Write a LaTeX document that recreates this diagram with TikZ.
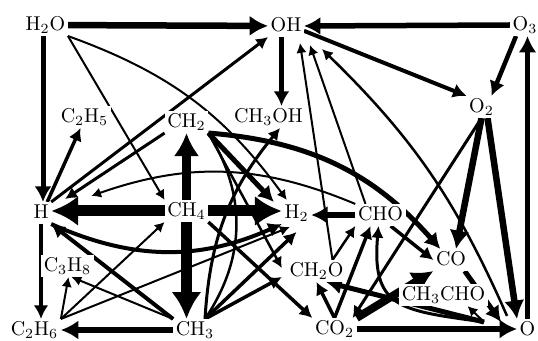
\documentclass[tikz,border=0pt]{standalone}
\usepackage{graphicx}
\usetikzlibrary{arrows.meta}
\pgfdeclarelayer{edges}
\pgfsetlayers{edges,main}
\newcommand{\lbl}[1]{\scalebox{2}{#1}}
\begin{document}
\begin{tikzpicture}[x=1pt,y=1pt,
  spc/.style={fill=white, inner sep=2.5pt, text height=13.7pt, text depth=3pt},
  ar/.style={line width=#1, -{Latex[length=6pt 1.9, width=6pt 2.2]}},
  pl/.style={line width=#1}]
\useasboundingbox (0,0) rectangle (538,340);

% species
\node[spc] (H2O)    at (45.5,315) {\lbl{H$_2$O}};
\node[spc] (OH)     at (286,314)  {\lbl{OH}};
\node[spc] (O3)     at (525,315)  {\lbl{O$_3$}};
\node[spc] (O2)     at (481.5,233) {\lbl{O$_2$}};
\node[spc] (C2H5)   at (84.5,223) {\lbl{C$_2$H$_5$}};
\node[spc] (CH2)    at (186.5,218) {\lbl{CH$_2$}};
\node[spc] (CH3OH)  at (268.5,223) {\lbl{CH$_3$OH}};
\node[spc] (H)      at (41,127)   {\lbl{H}};
\node[spc] (CH4)    at (186.5,129) {\lbl{CH$_4$}};
\node[spc] (H2)     at (296.5,127) {\lbl{H$_2$}};
\node[spc] (CHO)    at (380.5,125) {\lbl{CHO}};
\node[spc] (CH2O)   at (316.5,69) {\lbl{CH$_2$O}};
\node[spc] (CO)     at (451,80)   {\lbl{CO}};
\node[spc] (CH3CHO) at (443.5,45) {\lbl{CH$_3$CHO}};
\node[spc] (C3H8)   at (67.5,74)  {\lbl{C$_3$H$_8$}};
\node[spc] (C2H6)   at (34.5,10)  {\lbl{C$_2$H$_6$}};
\node[spc] (CH3)    at (195,10)   {\lbl{CH$_3$}};
\node[spc] (CO2)    at (334.5,11) {\lbl{CO$_2$}};
\node[spc] (O)      at (527.5,10) {\lbl{O}};
\coordinate (hub) at (484,18);

\begin{pgfonlayer}{edges}
% from H2O
\draw[ar=6.5pt] (H2O) -- (OH);
\draw[ar=5pt] ([xshift=-2.5pt]H2O.south) -- ([xshift=-2.5pt]H2O.south |- H.north);
\draw[ar=2pt] (H2O.south east) -- (CH4.north west);
\draw[ar=2pt] (H2O.south east) to[bend left=17] ([xshift=5pt,yshift=2pt]H2.north west);
% around H
\draw[ar=3pt] (H.north east) -- (OH.south west);
\draw[ar=3.5pt] ([xshift=-4pt]H.north east) -- ([xshift=-4pt]C2H5.south);
\draw[ar=3pt] (CH2.south west) -- ([xshift=14pt,yshift=3pt]H.north east);
\draw[ar=2pt] (CHO.north west) to[bend right=21] ([xshift=40pt,yshift=6pt]H.north east);
\draw[ar=4pt] (H.south east) to[bend right=24] (H2.south west);
\draw[ar=4pt] (H.south) -- (H.south |- C2H6.north);
% from CH4
\draw[ar=11pt] (CH4.west) -- (CH4.west -| H.east);
\draw[ar=11pt] (CH4.east) -- (CH4.east -| H2.west);
\draw[ar=11pt] (CH4.south) -- (CH4.south |- CH3.north);
\draw[ar=9pt] (CH4.north) -- (CH2.south);
\draw[ar=3.5pt] (CH4.south east) -- (CO2.north west);
% from CH3 and C2H6
\draw[ar=6pt] (CH3.west) -- (CH3.west -| C2H6.east);
\draw[ar=4pt] (CH3.north west) -- (H.south east);
\draw[ar=2pt] (CH3.north west) -- ([xshift=4pt]C3H8.south);
\draw[ar=2pt] (C2H6.north east) -- ([xshift=1pt]C3H8.south);
\draw[ar=2pt] (C2H6.north east) -- (CH4.south west);
\draw[ar=2pt] (C2H6.north east) -- ([xshift=8pt,yshift=-3pt]H2.south west);
\draw[ar=3.5pt] ([xshift=10pt]CH3.north) -- ([yshift=-8pt]H2.south);
\draw[ar=3.5pt] ([xshift=10pt]CH3.north) -- ([xshift=-5pt,yshift=5pt]CH2O.south west);
\draw[ar=3pt] ([xshift=10pt]CH3.north) to[bend left=18] ([xshift=11.5pt]CH3OH.south);
\draw[pl=2.5pt] (CH2.south east) to[bend left=33] ([xshift=10pt]CH3.north);
% from CH2 and OH
\draw[ar=4.5pt] ([xshift=-4.5pt]OH.south) -- ([xshift=-4.5pt]OH.south |- CH3OH.north);
\draw[ar=5pt] (CH2.south east) -- ([xshift=-8pt]H2.north west);
\draw[ar=5pt] (CH2.south east) to[bend left=22] ([xshift=7pt]CO.north west);
\draw[ar=2.5pt] (CH2.south east) -- ([xshift=-5pt,yshift=3pt]CH2O.west);
% CHO and CH2O
\draw[ar=5.5pt] (CHO.west) -- (CHO.west -| H2.east);
\draw[ar=3.5pt] ([xshift=-15pt]CHO.south east) -- (CO.west);
\draw[ar=2pt] ([xshift=-15pt]CHO.north) -- ([xshift=6pt,yshift=-8pt]OH.south east);
\draw[ar=2pt] ([xshift=16pt]CH2O.north) -- ([xshift=-4pt,yshift=-6pt]OH.south east);
\draw[ar=2.5pt] ([xshift=16pt]CH2O.north) -- (CHO.south west);
% from CO2
\draw[ar=3.5pt] (CO2.north) -- (CH2O.south);
\draw[ar=3.5pt] (CO2.north) -- ([xshift=-10pt]CHO.south);
\draw[ar=8pt] (CO2.north east) -- (CO.south west);
\draw[ar=6pt] (CO2.east) -- (CO2.east -| O.west);
% oxygen species
\draw[ar=3pt] (O2.south) -- ([xshift=-4pt]CO2.north east);
\draw[ar=6.5pt] (O2.south) -- ([xshift=5pt]CO.north);
\draw[ar=6.5pt] ([xshift=6pt]O2.south) -- (O.north west);
\draw[ar=4pt] (OH.-15) -- (O2.north west);
\draw[ar=5.5pt] (O3.west) -- (OH.east);
\draw[ar=4.5pt] ([xshift=6pt]O3.south west) -- ([xshift=-5pt]O2.north east);
\draw[ar=5.5pt] (O.north) -- (O.north |- O3.south);
\draw[ar=5pt] ([xshift=-4pt]CO.south east) -- ([xshift=-16pt,yshift=-3pt]O.north west);
\draw[ar=2.5pt] ([xshift=-10pt,yshift=3pt]O.north west) to[bend right=11] ([xshift=18pt,yshift=-12pt]OH.south east);
% lines leaving the junction below CH3CHO
\draw[ar=5pt] (hub) -- ([xshift=-20pt]CH2O.south east);
\draw[ar=3pt] (hub) to[out=172,in=-95,looseness=1.5] ([xshift=-2pt]CHO.south);
\draw[ar=2pt] (hub) -- ([xshift=24pt]CH3CHO.south);
\end{pgfonlayer}
\end{tikzpicture}
\end{document}
